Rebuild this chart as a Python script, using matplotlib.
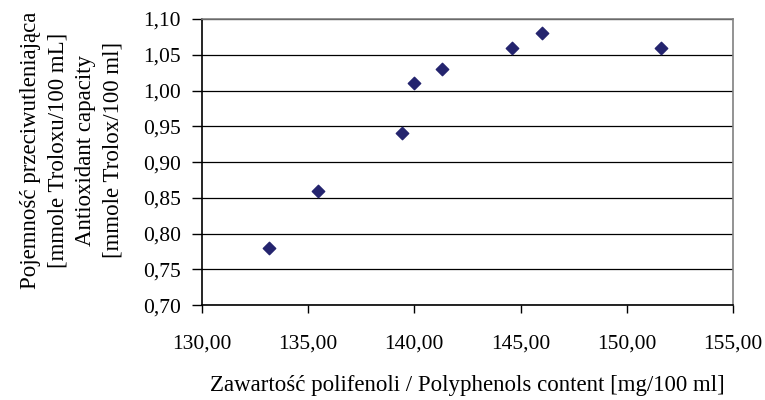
import matplotlib.pyplot as plt
from matplotlib.ticker import MultipleLocator, FuncFormatter

polyphenols = [133.17, 135.45, 139.42, 140.0, 141.28, 144.58, 146.01, 151.63]
capacity = [0.78, 0.86, 0.94, 1.01, 1.03, 1.06, 1.08, 1.06]

x_label = "Zawartość polifenoli / Polyphenols content [mg/100 ml]"
y_label = ("Pojemność przeciwutleniająca\n[mmole Troloxu/100 mL]\n"
           "Antioxidant capacity\n[mmole Trolox/100 ml]")

plt.rcParams['font.family'] = ['Liberation Serif', 'DejaVu Serif']
plt.rcParams['font.size'] = 15.5

fig = plt.figure(figsize=(7.65, 4), dpi=100)
ax = fig.add_axes([0.264, 0.237, 0.694, 0.7155])

ax.scatter(polyphenols, capacity, marker='D', s=40, color='#24246e', zorder=3)

ax.set_xlim(130, 155)
ax.set_ylim(0.70, 1.10)
ax.xaxis.set_major_locator(MultipleLocator(5))
ax.yaxis.set_major_locator(MultipleLocator(0.05))
ax.xaxis.set_major_formatter(FuncFormatter(lambda v, p: f"{v:.2f}".replace('.', ',')))
ax.yaxis.set_major_formatter(FuncFormatter(lambda v, p: f"{v:.2f}".replace('.', ',')))

ax.grid(axis='y', color='black', linewidth=0.9)
ax.set_axisbelow(True)
ax.tick_params(axis='x', direction='out', length=6, width=1, pad=15)
ax.tick_params(axis='y', direction='out', length=7, width=1, pad=8)

ax.spines['left'].set_color('black')
ax.spines['bottom'].set_color('black')
ax.spines['top'].set_color('#808080')
ax.spines['right'].set_color('#808080')
for s in ax.spines.values():
    s.set_linewidth(1.2)

fig.text(0.611, 0.035, x_label, ha='center', va='center', fontsize=16.5)
fig.text(0.0935, 0.625, y_label, rotation=90, ha='center', va='center',
         multialignment='center', linespacing=1.4, fontsize=16.5)

fig.savefig('out.png', dpi=100)
